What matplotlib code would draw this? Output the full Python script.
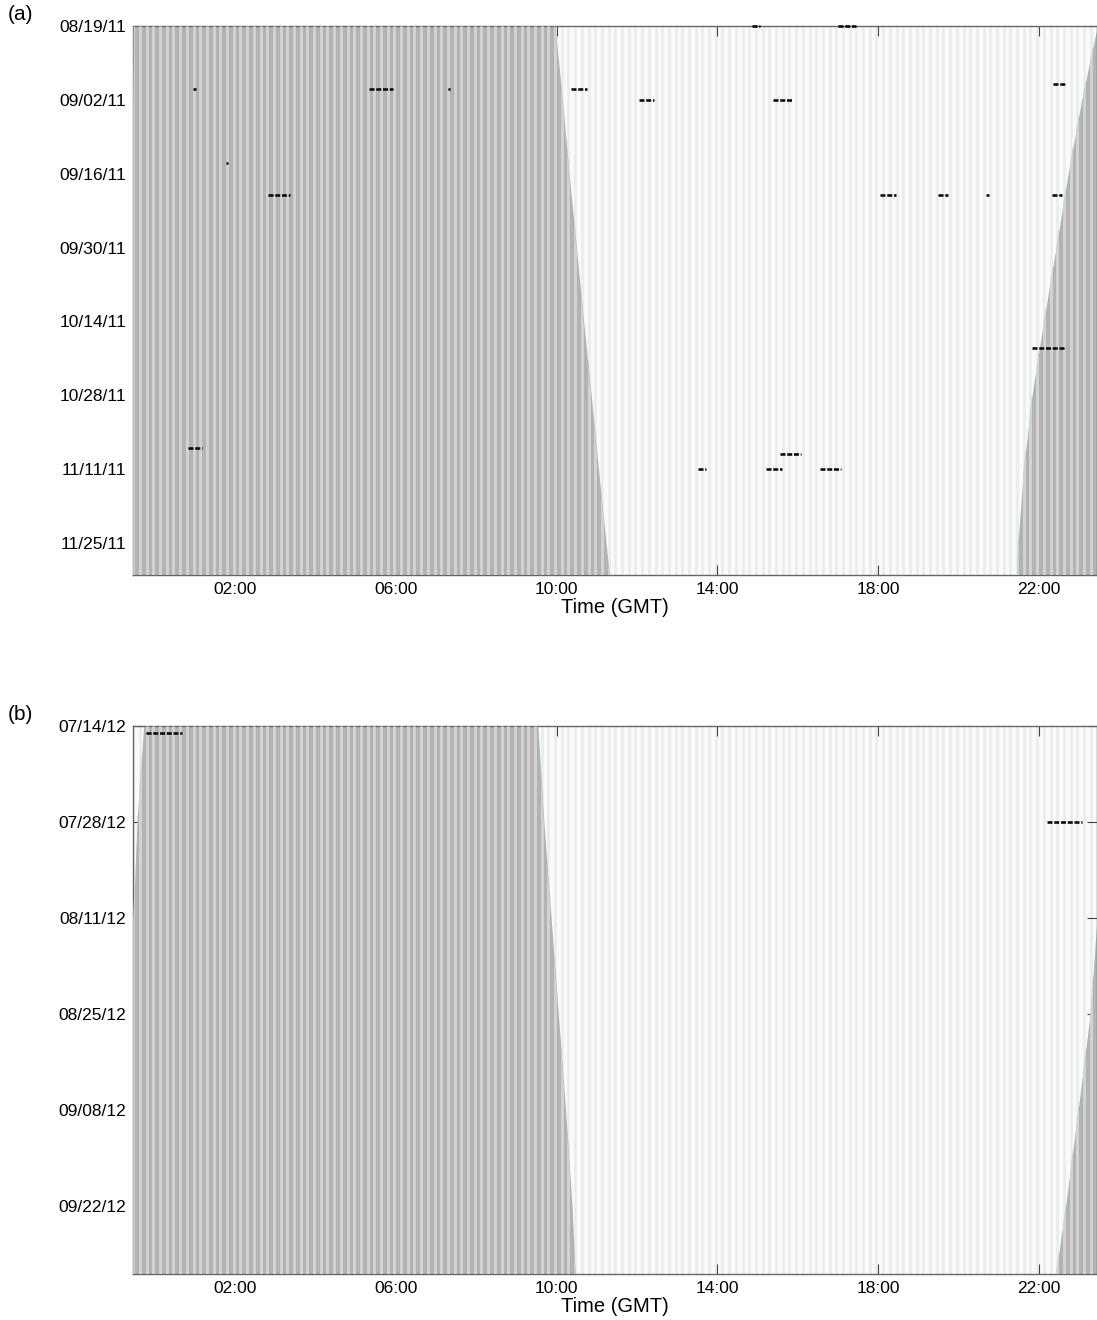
import numpy as np
import matplotlib.pyplot as plt
import matplotlib.dates as mdates
import pandas as pd

plt.rcParams['font.family'] = ['Liberation Sans', 'DejaVu Sans']

# time of day axis (GMT hours)
hour_ticks = [2, 6, 10, 14, 18, 22]
hour_labels = ['02:00', '06:00', '10:00', '14:00', '18:00', '22:00']
x_range = (-0.54, 23.46)
bin_hours = 1 / 6.

# panel (a) - 2011
a_range = ('2011-08-19', '2011-12-01')
a_ticks = ['2011-08-19', '2011-09-02', '2011-09-16', '2011-09-30',
           '2011-10-14', '2011-10-28', '2011-11-11', '2011-11-25']
a_sun_dates = ['2011-08-19', '2011-09-02', '2011-09-16', '2011-09-30', '2011-10-14',
               '2011-10-28', '2011-11-11', '2011-11-25', '2011-12-01']
a_sunrise = [9.96, 10.14, 10.31, 10.49, 10.67, 10.86, 11.04, 11.23, 11.31]
a_sunset = [23.47, 23.07, 22.73, 22.43, 22.12, 21.83, 21.62, 21.48, 21.45]
a_det_dates = ['2011-08-31', '2011-09-14', '2011-09-20', '2011-08-31', '2011-08-31',
               '2011-08-31', '2011-09-02', '2011-08-19', '2011-09-02', '2011-08-19',
               '2011-08-30', '2011-09-20', '2011-09-20', '2011-09-20', '2011-09-20',
               '2011-10-19', '2011-11-07', '2011-11-11', '2011-11-11', '2011-11-08',
               '2011-11-11']
a_det_start = [0.95, 1.77, 2.81, 5.33, 7.29, 10.36, 12.05, 14.86, 15.38, 17.00,
               22.35, 18.05, 19.49, 20.69, 22.33, 21.83, 0.82, 13.52, 15.21, 15.56,
               16.56]
a_det_end = [1.02, 1.82, 3.36, 5.92, 7.34, 10.75, 12.42, 15.06, 15.88, 17.45,
             22.65, 18.45, 19.74, 20.76, 22.58, 22.63, 1.17, 13.72, 15.61, 16.08,
             17.08]

# panel (b) - 2012
b_range = ('2012-07-14', '2012-10-02')
b_ticks = ['2012-07-14', '2012-07-28', '2012-08-11', '2012-08-25',
           '2012-09-08', '2012-09-22']
b_sun_dates = ['2012-07-14', '2012-07-28', '2012-08-11', '2012-08-25',
               '2012-09-08', '2012-09-22', '2012-10-02']
b_sunrise = [9.53, 9.68, 9.86, 10.04, 10.22, 10.38, 10.46]
b_sunset = [23.72, 23.55, 23.45, 23.28, 22.98, 22.67, 22.42]
b_det_dates = ['2012-07-15', '2012-07-28']
b_det_start = [-0.22, 22.21]
b_det_end = [0.67, 23.08]


def dnum(d):
    return mdates.date2num(pd.to_datetime(d))


def panel(ax, rng, ticks, sun_dates, sunrise, sunset, det_dates, det_start, det_end, tag):
    y0, y1 = dnum(rng[0]), dnum(rng[1])
    xmin, xmax = x_range
    edges = np.arange(xmin, xmax, bin_hours)

    # daytime background, faint stripes
    ax.set_facecolor('#f9fafa')
    ax.vlines(edges, y0, y1, color='#e8ecec', lw=1.8, zorder=1)

    # night: grey with lighter stripes
    ys = dnum(sun_dates)
    sr = np.array(sunrise)
    ss = np.array(sunset)
    left = np.maximum(ss - 24, xmin)
    right = np.minimum(ss, xmax)
    for xa, xb in [(left, sr), (right, np.full_like(ss, xmax))]:
        poly = ax.fill_betweenx(ys, xa, xb, color='#b3b3b3', lw=0, zorder=2)
        st = ax.vlines(edges, y0, y1, color='#d3d3d3', lw=2.1, zorder=3)
        st.set_clip_path(poly.get_paths()[0], poly.get_transform())

    ax.hlines(dnum(det_dates), det_start, det_end, colors='k', lw=1.8,
              linestyles=[(0, (2.0, 0.7))], zorder=5, clip_on=False)

    ax.set_xlim(xmin, xmax)
    ax.set_ylim(y1, y0)
    ax.set_xticks(hour_ticks)
    ax.set_xticklabels(hour_labels)
    ax.set_yticks(dnum(ticks))
    ax.yaxis.set_major_formatter(mdates.DateFormatter('%m/%d/%y'))
    ax.tick_params(direction='in', length=7, width=0.8, color='#444444',
                   top=True, right=True, labelsize=12.5, pad=5)
    for s in ax.spines.values():
        s.set_color('#666666')
        s.set_linewidth(1.0)
    ax.set_xlabel('Time (GMT)', fontsize=14.5, labelpad=1)
    ax.text(-0.130, 1.003, tag, transform=ax.transAxes, fontsize=15,
            ha='left', va='bottom')


fig = plt.figure(figsize=(10.97, 13.2), dpi=100)
ax_a = fig.add_axes([0.1215, 0.5644, 0.8789, 0.4161])
ax_b = fig.add_axes([0.1215, 0.0348, 0.8789, 0.4154])

panel(ax_a, a_range, a_ticks, a_sun_dates, a_sunrise, a_sunset,
      a_det_dates, a_det_start, a_det_end, '(a)')
panel(ax_b, b_range, b_ticks, b_sun_dates, b_sunrise, b_sunset,
      b_det_dates, b_det_start, b_det_end, '(b)')

fig.savefig('out.png', dpi=100)
